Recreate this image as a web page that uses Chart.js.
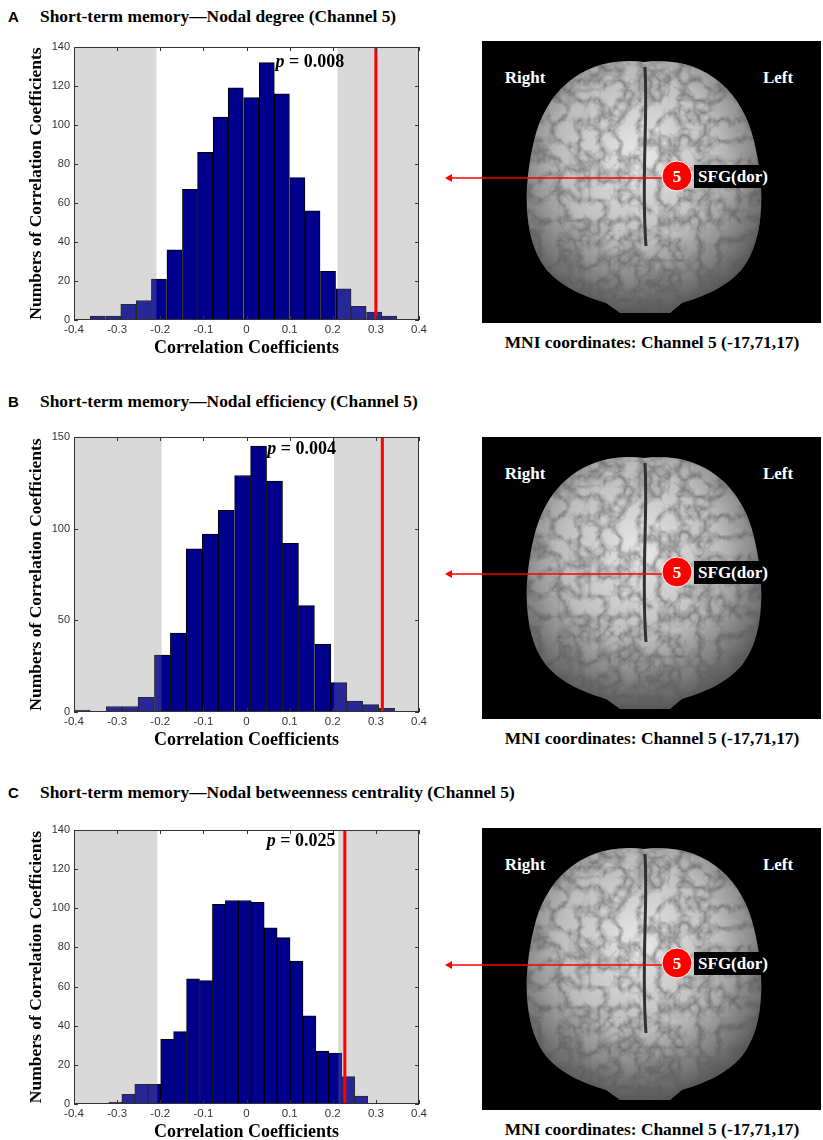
<!DOCTYPE html>
<html>
<head>
<meta charset="utf-8">
<script src="https://cdn.jsdelivr.net/npm/chart.js@4.4.1/dist/chart.umd.min.js"></script>
<style>
  body { margin:0; background:#fff; }
  #page { position:relative; width:823px; height:1140px; overflow:hidden; }
  .lett { position:absolute; left:8px; font:bold 15px "Liberation Sans", Arial, sans-serif; }
  .ttl { position:absolute; left:40px; font:bold 17.4px "Liberation Serif", serif; white-space:nowrap; }
  .hist { position:absolute; left:0; }
  .brain { position:absolute; left:440px; }
</style>
</head>
<body>
<div id="page">
  <div class="lett" style="top:8px">A</div>
  <div class="ttl" style="top:6px">Short-term memory—Nodal degree (Channel 5)</div>
  <canvas id="histA" class="hist" width="430" height="330" style="top:30px"></canvas>

  <div class="lett" style="top:393px">B</div>
  <div class="ttl" style="top:391px">Short-term memory—Nodal efficiency (Channel 5)</div>
  <canvas id="histB" class="hist" width="430" height="332" style="top:420px"></canvas>

  <div class="lett" style="top:784px">C</div>
  <div class="ttl" style="top:782px">Short-term memory—Nodal betweenness centrality (Channel 5)</div>
  <canvas id="histC" class="hist" width="430" height="331" style="top:813px"></canvas>

  <div id="brainA" class="brain" style="top:41px"></div>
  <div id="brainB" class="brain" style="top:437px"></div>
  <div id="brainC" class="brain" style="top:828px"></div>
</div>
<script>
// x / y tick labels
const xTickValues = [-0.4, -0.3, -0.2, -0.1, 0, 0.1, 0.2, 0.3, 0.4];
const yTicksA = [0, 20, 40, 60, 80, 100, 120, 140];
const yTicksB = [0, 50, 100, 150];
const yTicksC = [0, 20, 40, 60, 80, 100, 120, 140];

// histogram bins (centres) and counts
const binsA = [-0.345, -0.309, -0.274, -0.238, -0.203, -0.167, -0.131, -0.096, -0.060, -0.025,
               0.011, 0.047, 0.082, 0.118, 0.153, 0.189, 0.225, 0.260, 0.296, 0.331];
const countsA = [2, 2, 8, 10, 21, 36, 67, 86, 104, 119, 114, 132, 116, 73, 56, 25, 16, 7, 4, 2];

const binsB = [-0.381, -0.344, -0.307, -0.270, -0.233, -0.195, -0.158, -0.121, -0.084, -0.047,
               -0.009, 0.028, 0.065, 0.102, 0.139, 0.177, 0.214, 0.251, 0.288, 0.325];
const countsB = [1, 0, 3, 3, 8, 31, 43, 89, 97, 110, 129, 145, 126, 92, 58, 37, 16, 6, 4, 2];

const binsC = [-0.304, -0.274, -0.244, -0.214, -0.184, -0.154, -0.124, -0.094, -0.064, -0.034,
               -0.004, 0.026, 0.056, 0.086, 0.116, 0.146, 0.176, 0.206, 0.236, 0.266];
const countsC = [1, 5, 10, 10, 33, 37, 64, 63, 102, 104, 104, 103, 90, 85, 73, 45, 27, 26, 14, 4];

// significance bounds, observed r and p value per panel
const shadeLow = [-0.209, -0.197, -0.207];
const shadeHigh = [0.211, 0.203, 0.213];
const observedR = [0.300, 0.315, 0.228];
const pValues = ['0.008', '0.004', '0.025'];
const pLabelX = [0.067, 0.048, 0.047];
const pLabelY = [132, 143, 134];

const histPlugin = {
  id: 'hist',
  beforeDatasetsDraw(chart, args, o) {
    const { ctx, chartArea: a, scales: { x } } = chart;
    const xl = x.getPixelForValue(o.lo), xr = x.getPixelForValue(o.hi);
    ctx.save();
    ctx.fillStyle = '#d9d9d9';
    ctx.fillRect(a.left, a.top, xl - a.left, a.bottom - a.top);
    ctx.fillRect(xr, a.top, a.right - xr, a.bottom - a.top);
    ctx.restore();
  },
  afterDatasetsDraw(chart, args, o) {
    const { ctx, chartArea: a, scales: { x, y } } = chart;
    const xl = x.getPixelForValue(o.lo), xr = x.getPixelForValue(o.hi);
    ctx.save();
    // translucent shade over the bars in the tails
    ctx.fillStyle = 'rgba(217,217,217,0.18)';
    ctx.fillRect(a.left, a.top, xl - a.left, a.bottom - a.top);
    ctx.fillRect(xr, a.top, a.right - xr, a.bottom - a.top);

    // observed correlation
    const rx = x.getPixelForValue(o.r);
    ctx.strokeStyle = '#ff0000';
    ctx.lineWidth = 3;
    ctx.beginPath();
    ctx.moveTo(rx, a.top);
    ctx.lineTo(rx, a.bottom);
    ctx.stroke();

    // box with inward ticks
    ctx.strokeStyle = '#333';
    ctx.lineWidth = 1;
    ctx.strokeRect(a.left + 0.5, a.top + 0.5, a.right - a.left - 1, a.bottom - a.top - 1);
    ctx.beginPath();
    x.ticks.forEach(t => {
      const px = Math.round(x.getPixelForValue(t.value)) + 0.5;
      ctx.moveTo(px, a.bottom); ctx.lineTo(px, a.bottom - 4);
      ctx.moveTo(px, a.top); ctx.lineTo(px, a.top + 4);
    });
    y.ticks.forEach(t => {
      const py = Math.round(y.getPixelForValue(t.value)) + 0.5;
      ctx.moveTo(a.left, py); ctx.lineTo(a.left + 4, py);
      ctx.moveTo(a.right, py); ctx.lineTo(a.right - 4, py);
    });
    ctx.stroke();

    // p label
    const px = x.getPixelForValue(o.px), py = y.getPixelForValue(o.py);
    ctx.fillStyle = '#000';
    ctx.textBaseline = 'middle';
    ctx.textAlign = 'left';
    ctx.font = 'italic bold 18px "Liberation Serif", serif';
    ctx.fillText('p', px, py);
    const w = ctx.measureText('p').width;
    ctx.font = 'bold 18px "Liberation Serif", serif';
    ctx.fillText(' = ' + o.p, px + w, py);
    ctx.restore();
  }
};

function makeHist(id, bins, counts, yTicks, i, padRight) {
  const yMax = yTicks[yTicks.length - 1];
  new Chart(document.getElementById(id), {
    type: 'bar',
    data: {
      datasets: [{
        data: bins.map((b, k) => ({ x: b, y: counts[k] })),
        backgroundColor: '#00008c',
        borderColor: '#000',
        borderWidth: 1,
        borderSkipped: false,
        barPercentage: 1,
        categoryPercentage: 1
      }]
    },
    plugins: [histPlugin],
    options: {
      responsive: false,
      animation: false,
      layout: { padding: { left: 22, right: padRight, top: 17, bottom: 0 } },
      plugins: {
        legend: { display: false },
        tooltip: { enabled: false },
        hist: { lo: shadeLow[i], hi: shadeHigh[i], r: observedR[i], p: pValues[i], px: pLabelX[i], py: pLabelY[i] }
      },
      scales: {
        x: {
          type: 'linear', min: -0.4, max: 0.4, offset: false,
          afterBuildTicks: s => { s.ticks = xTickValues.map(v => ({ value: v })); },
          afterFit: s => { s.height = 40; },
          grid: { display: false, drawTicks: false },
          border: { display: false },
          ticks: { padding: 3, color: '#333', font: { family: '"Liberation Sans", Arial', size: 11.5 },
                   maxRotation: 0, callback: v => String(Math.round(v * 10) / 10) },
          title: { display: true, text: 'Correlation Coefficients', color: '#000',
                   font: { family: '"Liberation Serif", serif', size: 18, weight: 'bold' }, padding: { top: 0, bottom: 1 } }
        },
        y: {
          min: 0, max: yMax,
          afterBuildTicks: s => { s.ticks = yTicks.map(v => ({ value: v })); },
          afterFit: s => { s.width = 52; },
          grid: { display: false, drawTicks: false },
          border: { display: false },
          ticks: { padding: 4, color: '#333', font: { family: '"Liberation Sans", Arial', size: 11 } },
          title: { display: true, text: 'Numbers of Correlation Coefficients', color: '#000',
                   font: { family: '"Liberation Serif", serif', size: 17.5, weight: 'bold' }, padding: { top: 4, bottom: 0 } }
        }
      }
    }
  });
}

makeHist('histA', binsA, countsA, yTicksA, 0, 10);
makeHist('histB', binsB, countsB, yTicksB, 1, 6);
makeHist('histC', binsC, countsC, yTicksC, 2, 6);

// brain rendering panels (illustration only)
function brainSvg(uid) {
  return `<svg width="383" height="312" xmlns="http://www.w3.org/2000/svg">
  <defs>
    <radialGradient id="g${uid}" cx="48%" cy="38%" r="62%">
      <stop offset="0%" stop-color="#e8e8e8"/>
      <stop offset="55%" stop-color="#bdbdbd"/>
      <stop offset="100%" stop-color="#5a5a5a"/>
    </radialGradient>
    <filter id="f${uid}" x="0" y="0" width="100%" height="100%">
      <feTurbulence type="turbulence" baseFrequency="0.05" numOctaves="3" seed="4" result="t"/>
      <feColorMatrix in="t" type="matrix" values="0 0 0 0 0.1  0 0 0 0 0.1  0 0 0 0 0.1  -1.8 0 0 0 0.75" result="m"/>
      <feComposite in="m" in2="SourceGraphic" operator="in" result="c"/>
      <feMerge><feMergeNode in="SourceGraphic"/><feMergeNode in="c"/></feMerge>
    </filter>
  </defs>
  <rect x="42" y="0" width="339" height="282" fill="#000"/>
  <g filter="url(#f${uid})">
    <path d="M204 21 C 262 14, 302 48, 314 100 C 326 150, 324 200, 302 228 C 286 247, 262 256, 242 262 L 230 272 L 180 272 L 166 262 C 146 256, 122 247, 106 228 C 84 200, 82 150, 94 100 C 106 48, 146 14, 204 21 Z" fill="url(#g${uid})"/>
  </g>
  <path d="M205 26 C 208 80, 201 140, 206 205" stroke="#303030" stroke-width="3" fill="none"/>
  <text x="85" y="42" fill="#fff" text-anchor="middle" font-family="Liberation Serif" font-weight="bold" font-size="17">Right</text>
  <text x="338" y="42" fill="#fff" text-anchor="middle" font-family="Liberation Serif" font-weight="bold" font-size="17">Left</text>
  <line x1="222" y1="137" x2="10" y2="137" stroke="#ff0000" stroke-width="1.5"/>
  <path d="M5 137 L 12 133 L 12 141 Z" fill="#ff0000"/>
  <rect x="254" y="124" width="78" height="23" fill="#000"/>
  <circle cx="237" cy="135" r="15" fill="#ff0000" stroke="#fff" stroke-width="1"/>
  <text x="237" y="141" fill="#fff" text-anchor="middle" font-family="Liberation Serif" font-weight="bold" font-size="17">5</text>
  <text x="293" y="141" fill="#fff" text-anchor="middle" font-family="Liberation Serif" font-weight="bold" font-size="17">SFG(dor)</text>
  <text x="212" y="307" fill="#000" text-anchor="middle" font-family="Liberation Serif" font-weight="bold" font-size="17.4">MNI coordinates: Channel 5 (-17,71,17)</text>
</svg>`;
}
document.getElementById('brainA').innerHTML = brainSvg('a');
document.getElementById('brainB').innerHTML = brainSvg('b');
document.getElementById('brainC').innerHTML = brainSvg('c');
</script>
</body>
</html>
